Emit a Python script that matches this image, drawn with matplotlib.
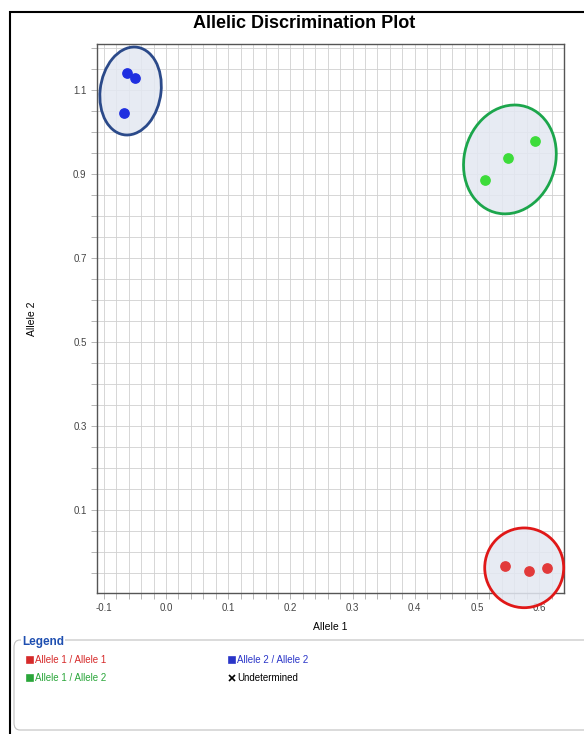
import numpy as np
import matplotlib
matplotlib.use("Agg")
import matplotlib.pyplot as plt
from matplotlib.patches import Ellipse, Rectangle, FancyBboxPatch
from matplotlib.lines import Line2D

plt.rcParams['font.family'] = ['Liberation Sans', 'DejaVu Sans']

# data
blue_x = [-0.063, -0.050, -0.068]
blue_y = [1.140, 1.129, 1.045]
green_x = [0.513, 0.550, 0.594]
green_y = [0.886, 0.938, 0.979]
red_x = [0.545, 0.584, 0.613]
red_y = [-0.033, -0.045, -0.038]

x_ticks = [-0.1, 0.0, 0.1, 0.2, 0.3, 0.4, 0.5, 0.6]
y_ticks = [0.1, 0.3, 0.5, 0.7, 0.9, 1.1]

# clusters: (center x, center y, width, height, angle, colour)
clusters = [
    (-0.057, 1.098, 0.098, 0.21, -4, "#2b4a8a"),
    (0.553, 0.935, 0.148, 0.26, -5, "#1ca64c"),
    (0.576, -0.038, 0.127, 0.19, 0, "#e01818"),
]

fig = plt.figure(figsize=(5.84, 7.34), dpi=100)
fig.patch.set_facecolor("white")

# outer frame
fig.patches.append(Rectangle((10 / 584, -0.01), 1.0, 1 - 12 / 734 + 0.01,
                             transform=fig.transFigure, fill=False,
                             edgecolor="black", linewidth=1.5))

ax = fig.add_axes([97 / 584, 141 / 734, 467 / 584, 549 / 734])
ax.set_xlim(-0.111, 0.640)
ax.set_ylim(-0.098, 1.21)

ax.set_xticks(x_ticks)
ax.set_xticklabels([f"{v:.1f}" for v in x_ticks])
ax.set_yticks(y_ticks)
ax.set_yticklabels([f"{v:.1f}" for v in y_ticks])
ax.set_xticks(np.arange(-0.10, 0.64, 0.02), minor=True)
ax.set_yticks(np.arange(-0.05, 1.21, 0.05), minor=True)
ax.grid(True, which="both", color="#d0d0d0", linewidth=0.6)
ax.set_axisbelow(True)
ax.tick_params(which="both", labelsize=7, labelcolor="#444444",
               color="#aaaaaa", length=4, width=0.6)
for s in ax.spines.values():
    s.set_color("#555555")
    s.set_linewidth(1.0)

for cx, cy, w, h, ang, col in clusters:
    ax.add_patch(Ellipse((cx, cy), w, h, angle=ang,
                         facecolor=(0.89, 0.91, 0.95, 0.85),
                         edgecolor=col, linewidth=2,
                         clip_on=False, zorder=3))

ax.scatter(blue_x, blue_y, s=45, color="#1f2fe0", zorder=4, clip_on=False)
ax.scatter(green_x, green_y, s=45, color="#3ddc3a", zorder=4, clip_on=False)
ax.scatter(red_x, red_y, s=45, color="#e23a3a", zorder=4, clip_on=False)

ax.set_xlabel("Allele 1", fontsize=7.5, labelpad=6)
ax.set_ylabel("Allele 2", fontsize=7.5, labelpad=26)

fig.text(304 / 584, 1 - 28 / 734, "Allelic Discrimination Plot",
         ha="center", va="baseline", fontsize=13, fontweight="bold")

# legend box
fig.patches.append(FancyBboxPatch((14 / 584, 4 / 734), 0.99, 90 / 734,
                                  boxstyle="round,pad=0,rounding_size=0.01",
                                  transform=fig.transFigure, fill=False,
                                  edgecolor="#c0c0c0", linewidth=0.8))
fig.text(22 / 584, 1 - 642 / 734, "Legend", color="#1f4fb0", fontsize=8.5,
         fontweight="bold", va="center", ha="left",
         bbox=dict(facecolor="white", edgecolor="none", pad=1))

legend_items = [
    (30, 660, "Allele 1 / Allele 1", "#d62a2a", "s"),
    (232, 660, "Allele 2 / Allele 2", "#2a35c8", "s"),
    (30, 678, "Allele 1 / Allele 2", "#2aa63a", "s"),
    (232, 678, "Undetermined", "black", "x"),
]
for px, py, label, col, mk in legend_items:
    yy = 1 - py / 734
    fig.add_artist(Line2D([px / 584], [yy], marker=mk, color=col,
                          markersize=4 if mk == "s" else 5,
                          markeredgewidth=1.2, linestyle="none",
                          transform=fig.transFigure))
    fig.text((px + 5) / 584, yy, label, color=col if mk == "s" else "black",
             fontsize=7, va="center", ha="left")

fig.savefig("out.png", dpi=100)
